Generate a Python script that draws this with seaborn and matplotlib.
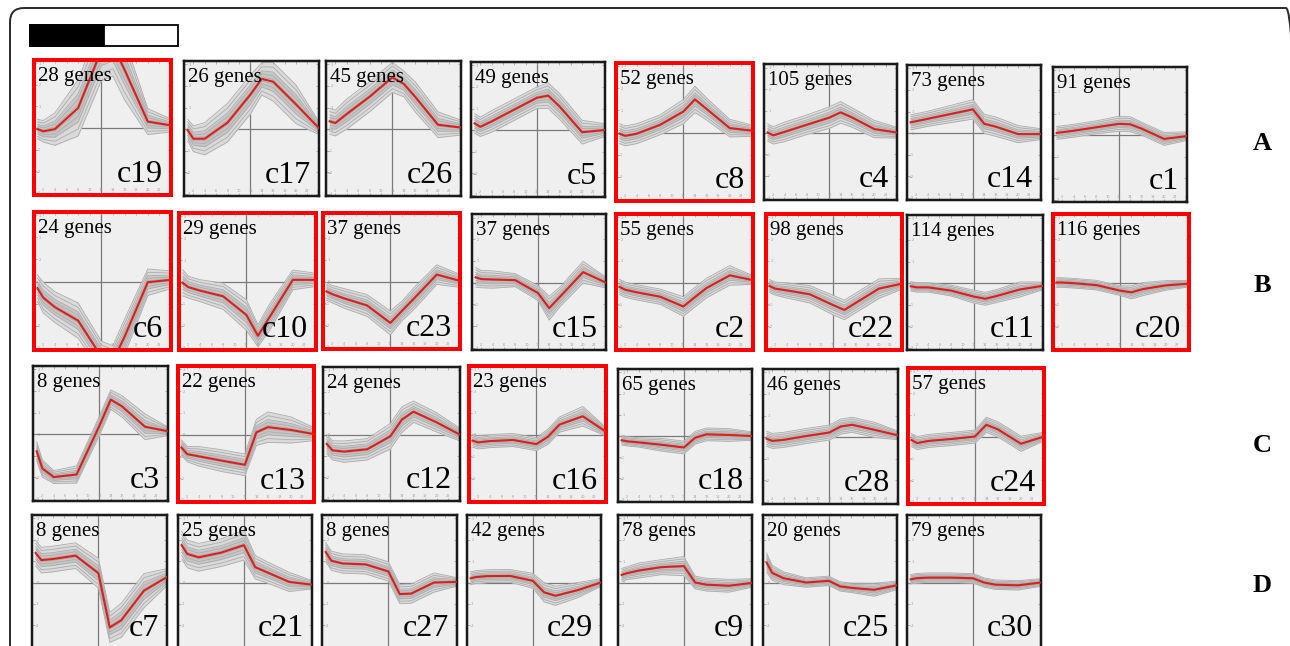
import numpy as np
import pandas as pd
import matplotlib
matplotlib.use("Agg")
import matplotlib.pyplot as plt
import seaborn as sns
from matplotlib.patches import Rectangle, FancyBboxPatch

# ---------------- data ----------------
times = [1, 2, 4, 8, 12, 14, 16, 20, 24]

row_names = ["A", "B", "C", "D"]
row_A = ["c19", "c17", "c26", "c5", "c8", "c4", "c14", "c1"]
row_B = ["c6", "c10", "c23", "c15", "c2", "c22", "c11", "c20"]
row_C = ["c3", "c13", "c12", "c16", "c18", "c28", "c24"]
row_D = ["c7", "c21", "c27", "c29", "c9", "c25", "c30"]

row_A_genes = [28, 26, 45, 49, 52, 105, 73, 91]
row_B_genes = [24, 29, 37, 37, 55, 98, 114, 116]
row_C_genes = [8, 22, 24, 23, 65, 46, 57]
row_D_genes = [8, 25, 8, 42, 78, 20, 79]

highlighted = ["c19", "c8", "c6", "c10", "c23", "c2", "c22", "c20", "c13", "c16", "c24"]

# mean (red) profiles
c19 = [-0.05, -0.15, -0.05, 0.93, 3.6, 3.8, 2.7, 0.3, 0.12]
c17 = [-0.05, -0.45, -0.45, 0.3, 1.6, 2.33, 2.2, 1.15, 0.05]
c26 = [0.36, 0.28, 0.7, 1.5, 2.4, 2.1, 1.5, 0.2, 0.07]
c5 = [0.31, 0.15, 0.4, 0.95, 1.5, 1.6, 1.1, -0.1, 0.0]
c8 = [-0.05, -0.15, -0.05, 0.35, 0.95, 1.5, 1.07, 0.2, 0.08]
c4 = [0.0, -0.13, 0.03, 0.36, 0.69, 0.93, 0.7, 0.16, 0.0]
c14 = [0.5, 0.55, 0.66, 0.88, 1.1, 0.43, 0.3, -0.05, -0.05]
c1 = [0.1, 0.13, 0.2, 0.36, 0.52, 0.5, 0.3, -0.18, -0.05]

c6 = [-0.3, -0.73, -1.16, -1.77, -3.4, -3.6, -2.5, -0.03, 0.08]
c10 = [-0.03, -0.23, -0.39, -0.65, -1.5, -2.45, -1.6, 0.1, 0.1]
c23 = [-0.45, -0.58, -0.77, -1.1, -1.9, -1.35, -0.8, 0.32, 0.03]
c15 = [0.24, 0.16, 0.14, 0.11, -0.48, -1.18, -0.63, 0.48, 0.0]
c2 = [-0.2, -0.33, -0.45, -0.65, -1.1, -0.67, -0.25, 0.33, 0.11]
c22 = [-0.16, -0.28, -0.36, -0.54, -1.03, -1.26, -0.93, -0.28, -0.05]
c11 = [-0.15, -0.2, -0.2, -0.35, -0.63, -0.73, -0.6, -0.3, -0.13]
c20 = [0.0, 0.0, -0.03, -0.12, -0.37, -0.45, -0.3, -0.13, -0.05]

c3 = [-0.8, -1.6, -2.0, -1.88, 0.38, 1.6, 1.28, 0.34, 0.13]
c13 = [-0.6, -0.9, -1.0, -1.2, -1.39, 0.1, 0.34, 0.21, 0.02]
c12 = [-0.44, -0.74, -0.8, -0.69, -0.08, 0.7, 1.07, 0.57, 0.0]
c16 = [-0.28, -0.36, -0.3, -0.25, -0.44, -0.1, 0.46, 0.84, 0.13]
c18 = [-0.2, -0.25, -0.3, -0.41, -0.54, -0.08, 0.08, 0.05, 0.0]
c28 = [-0.08, -0.18, -0.13, 0.05, 0.21, 0.49, 0.57, 0.33, 0.08]
c24 = [-0.16, -0.3, -0.2, -0.11, 0.0, 0.54, 0.33, -0.33, 0.0]

c7 = [1.38, 1.05, 1.1, 1.26, 0.44, -2.1, -1.77, -0.38, 0.25]
c21 = [1.75, 1.34, 1.18, 1.4, 1.75, 0.72, 0.49, 0.03, -0.1]
c27 = [1.43, 1.02, 0.89, 0.85, 0.52, -0.54, -0.52, 0.0, 0.03]
c29 = [0.2, 0.26, 0.3, 0.31, 0.08, -0.46, -0.62, -0.35, 0.0]
c9 = [0.36, 0.44, 0.56, 0.72, 0.77, 0.0, -0.1, -0.15, -0.02]
c25 = [0.93, 0.45, 0.2, 0.0, 0.08, -0.18, -0.25, -0.34, -0.13]
c30 = [0.15, 0.2, 0.23, 0.23, 0.2, 0.0, -0.1, -0.13, 0.0]

# half-width of the grey gene bundle around each mean
s19 = [0.45, 0.5, 0.75, 1.3, 1.4, 1.4, 1.4, 0.6, 0.3]
s17 = [0.5, 0.6, 0.75, 0.9, 0.9, 0.75, 0.9, 0.9, 0.3]
s26 = [0.6, 0.6, 0.7, 0.7, 0.7, 0.6, 0.7, 0.6, 0.35]
s5 = [0.45, 0.45, 0.5, 0.5, 0.5, 0.6, 0.6, 0.55, 0.3]
s8 = [0.45, 0.45, 0.45, 0.45, 0.55, 0.6, 0.5, 0.4, 0.25]
s4 = [0.4, 0.4, 0.45, 0.45, 0.5, 0.5, 0.45, 0.4, 0.25]
s14 = [0.35, 0.35, 0.35, 0.4, 0.45, 0.45, 0.45, 0.4, 0.25]
s1 = [0.3, 0.3, 0.3, 0.3, 0.35, 0.35, 0.3, 0.3, 0.2]
s6 = [0.6, 0.7, 0.7, 0.8, 0.7, 0.7, 0.8, 0.6, 0.4]
s10 = [0.6, 0.5, 0.5, 0.6, 0.7, 0.5, 0.6, 0.45, 0.3]
s23 = [0.4, 0.4, 0.45, 0.5, 0.55, 0.45, 0.5, 0.45, 0.3]
s15 = [0.45, 0.4, 0.4, 0.3, 0.35, 0.55, 0.45, 0.5, 0.25]
s2 = [0.35, 0.35, 0.35, 0.35, 0.45, 0.45, 0.45, 0.45, 0.2]
s22 = [0.3, 0.3, 0.35, 0.4, 0.45, 0.45, 0.45, 0.45, 0.25]
s11 = [0.22, 0.22, 0.22, 0.25, 0.3, 0.3, 0.3, 0.35, 0.18]
s20 = [0.22, 0.22, 0.22, 0.22, 0.22, 0.3, 0.3, 0.22, 0.15]
s3 = [0.45, 0.4, 0.3, 0.4, 0.45, 0.45, 0.5, 0.6, 0.2]
s13 = [0.35, 0.35, 0.45, 0.5, 0.5, 0.6, 0.7, 0.6, 0.3]
s12 = [0.45, 0.45, 0.5, 0.5, 0.6, 0.6, 0.5, 0.45, 0.3]
s16 = [0.3, 0.3, 0.3, 0.3, 0.3, 0.35, 0.35, 0.45, 0.2]
s18 = [0.22, 0.22, 0.22, 0.3, 0.3, 0.3, 0.3, 0.3, 0.2]
s28 = [0.35, 0.35, 0.35, 0.35, 0.35, 0.35, 0.35, 0.35, 0.2]
s24 = [0.3, 0.3, 0.3, 0.3, 0.3, 0.35, 0.35, 0.35, 0.2]
s7 = [0.6, 0.6, 0.6, 0.6, 0.7, 0.7, 0.8, 0.8, 0.4]
s21 = [0.65, 0.65, 0.65, 0.65, 0.7, 0.55, 0.5, 0.45, 0.2]
s27 = [0.45, 0.45, 0.45, 0.45, 0.45, 0.45, 0.45, 0.45, 0.2]
s29 = [0.3, 0.3, 0.3, 0.3, 0.35, 0.45, 0.45, 0.35, 0.18]
s9 = [0.3, 0.3, 0.35, 0.35, 0.45, 0.3, 0.3, 0.3, 0.2]
s25 = [0.45, 0.35, 0.3, 0.22, 0.22, 0.22, 0.22, 0.3, 0.2]
s30 = [0.22, 0.22, 0.22, 0.22, 0.22, 0.22, 0.22, 0.22, 0.18]

means = {"c19": c19, "c17": c17, "c26": c26, "c5": c5, "c8": c8, "c4": c4, "c14": c14, "c1": c1,
         "c6": c6, "c10": c10, "c23": c23, "c15": c15, "c2": c2, "c22": c22, "c11": c11, "c20": c20,
         "c3": c3, "c13": c13, "c12": c12, "c16": c16, "c18": c18, "c28": c28, "c24": c24,
         "c7": c7, "c21": c21, "c27": c27, "c29": c29, "c9": c9, "c25": c25, "c30": c30}
spreads = {"c19": s19, "c17": s17, "c26": s26, "c5": s5, "c8": s8, "c4": s4, "c14": s14, "c1": s1,
           "c6": s6, "c10": s10, "c23": s23, "c15": s15, "c2": s2, "c22": s22, "c11": s11, "c20": s20,
           "c3": s3, "c13": s13, "c12": s12, "c16": s16, "c18": s18, "c28": s28, "c24": s24,
           "c7": s7, "c21": s21, "c27": s27, "c29": s29, "c9": s9, "c25": s25, "c30": s30}

y_ticks = [-3, -2, -1, 0, 1, 2, 3]
x_ticks = [2, 4, 6, 8, 10, 12, 14, 16, 18, 20, 22, 24]

# ---------------- layout (pixel boxes: x0, y0, x1, y1) ----------------
W, H = 1290, 646
boxes_A = [(32, 58, 173, 197), (183, 60, 320, 197), (325, 60, 462, 197), (470, 61, 606, 198),
           (614, 61, 755, 203), (763, 63, 898, 201), (906, 64, 1042, 201), (1052, 66, 1188, 203)]
boxes_B = [(32, 210, 173, 352), (177, 211, 318, 352), (321, 211, 462, 351), (471, 213, 607, 351),
           (614, 212, 755, 352), (764, 212, 904, 352), (906, 214, 1044, 351), (1051, 212, 1191, 352)]
boxes_C = [(32, 365, 169, 502), (176, 364, 316, 504), (322, 366, 461, 502), (467, 364, 608, 504),
           (617, 368, 753, 503), (762, 368, 899, 505), (906, 366, 1046, 506)]
boxes_D = [(31, 514, 168, 650), (177, 514, 313, 650), (321, 514, 458, 650), (466, 514, 602, 650),
           (617, 514, 753, 650), (762, 514, 898, 650), (906, 514, 1042, 650)]
row_label_y = [143, 285, 445, 585]

fig = plt.figure(figsize=(W / 100, H / 100), dpi=100)
fig.patch.set_facecolor("white")
SERIF = ["Liberation Serif", "DejaVu Serif"]

# outer rounded frame (right and bottom sides run off the image)
fig.patches.append(FancyBboxPatch((0.10, -0.6), 12.90, 6.46 - 0.08 + 0.6,
                                  boxstyle="round,pad=0,rounding_size=0.14",
                                  transform=fig.dpi_scale_trans, fill=False,
                                  ec="#2a2a2a", lw=1.4, zorder=0))
# scale bar
fig.patches.append(Rectangle((30 / W, 1 - 46 / H), 148 / W, 21 / H, transform=fig.transFigure,
                             fc="white", ec="black", lw=1.3))
fig.patches.append(Rectangle((30 / W, 1 - 46 / H), 74 / W, 21 / H, transform=fig.transFigure,
                             fc="black", ec="black", lw=1.3))

fracs = [-1.0, -0.75, -0.5, -0.3, -0.12, 0.12, 0.3, 0.5, 0.75, 1.0]


def draw_panel(name, n_genes, box, last_row=False):
    red = name in highlighted
    lw_px = 4.0 if red else 2.5
    x0, y0, x1, y1 = box
    i = lw_px / 2
    ax = fig.add_axes([(x0 + i) / W, 1 - (y1 - i) / H, (x1 - x0 - 2 * i) / W, (y1 - y0 - 2 * i) / H])
    ax.set_facecolor("#efefef")
    m = np.array(means[name])
    s = np.array(spreads[name])

    ax.axvline(12, color="#7a7a7a", lw=0.9, zorder=1)
    ax.axhline(0, color="#7a7a7a", lw=0.9, zorder=1)
    ax.fill_between(times, m - s, m + s, color="#dadada", lw=0, zorder=1.5)
    ax.fill_between(times, m - 0.5 * s, m + 0.5 * s, color="#c6c6c6", lw=0, zorder=1.6)
    rows = []
    for k, f in enumerate(fracs):
        for t, v in zip(times, m + f * s):
            rows.append({"t": t, "v": v, "gene": k})
    df = pd.DataFrame(rows)
    sns.lineplot(data=df, x="t", y="v", units="gene", estimator=None, color="#acacac",
                 lw=0.6, ax=ax, legend=False, zorder=2)
    sns.lineplot(x=times, y=m, color="#dd1f1a", lw=1.5, ax=ax, zorder=3)

    ax.set_xlim(0.4, 24.0)
    ax.set_ylim(-3.1, 3.15)
    ax.set_xticks(x_ticks)
    ax.set_yticks(y_ticks)
    if last_row:
        ax.set_yticklabels(["" if v == -3 else str(v) for v in y_ticks])
    ax.tick_params(direction="in", length=2, width=0.5, colors="#9a9a9a", labelsize=2.5,
                   pad=-5, top=True, right=True, labelbottom=not last_row)
    ax.set_xlabel("")
    ax.set_ylabel("")
    for sp in ax.spines.values():
        sp.set_color("#ff0000" if red else "#1a1a1a")
        sp.set_linewidth(lw_px * 0.72)

    ax.text(0.03, 0.95, f"{n_genes} genes", transform=ax.transAxes, ha="left", va="top",
            fontsize=15, family=SERIF, color="black", zorder=5)
    ax.text(0.94, 0.095, name, transform=ax.transAxes, ha="right", va="baseline",
            fontsize=23, family=SERIF, color="black", zorder=5)


for names, genes, boxes, last in [(row_A, row_A_genes, boxes_A, False), (row_B, row_B_genes, boxes_B, False),
                                  (row_C, row_C_genes, boxes_C, False), (row_D, row_D_genes, boxes_D, True)]:
    for nm, g, b in zip(names, genes, boxes):
        draw_panel(nm, g, b, last)

for lab, y in zip(row_names, row_label_y):
    fig.text(1262 / W, 1 - y / H, lab, ha="center", va="center", fontsize=19,
             fontweight="bold", family=SERIF)

fig.savefig("out.png", dpi=100)
